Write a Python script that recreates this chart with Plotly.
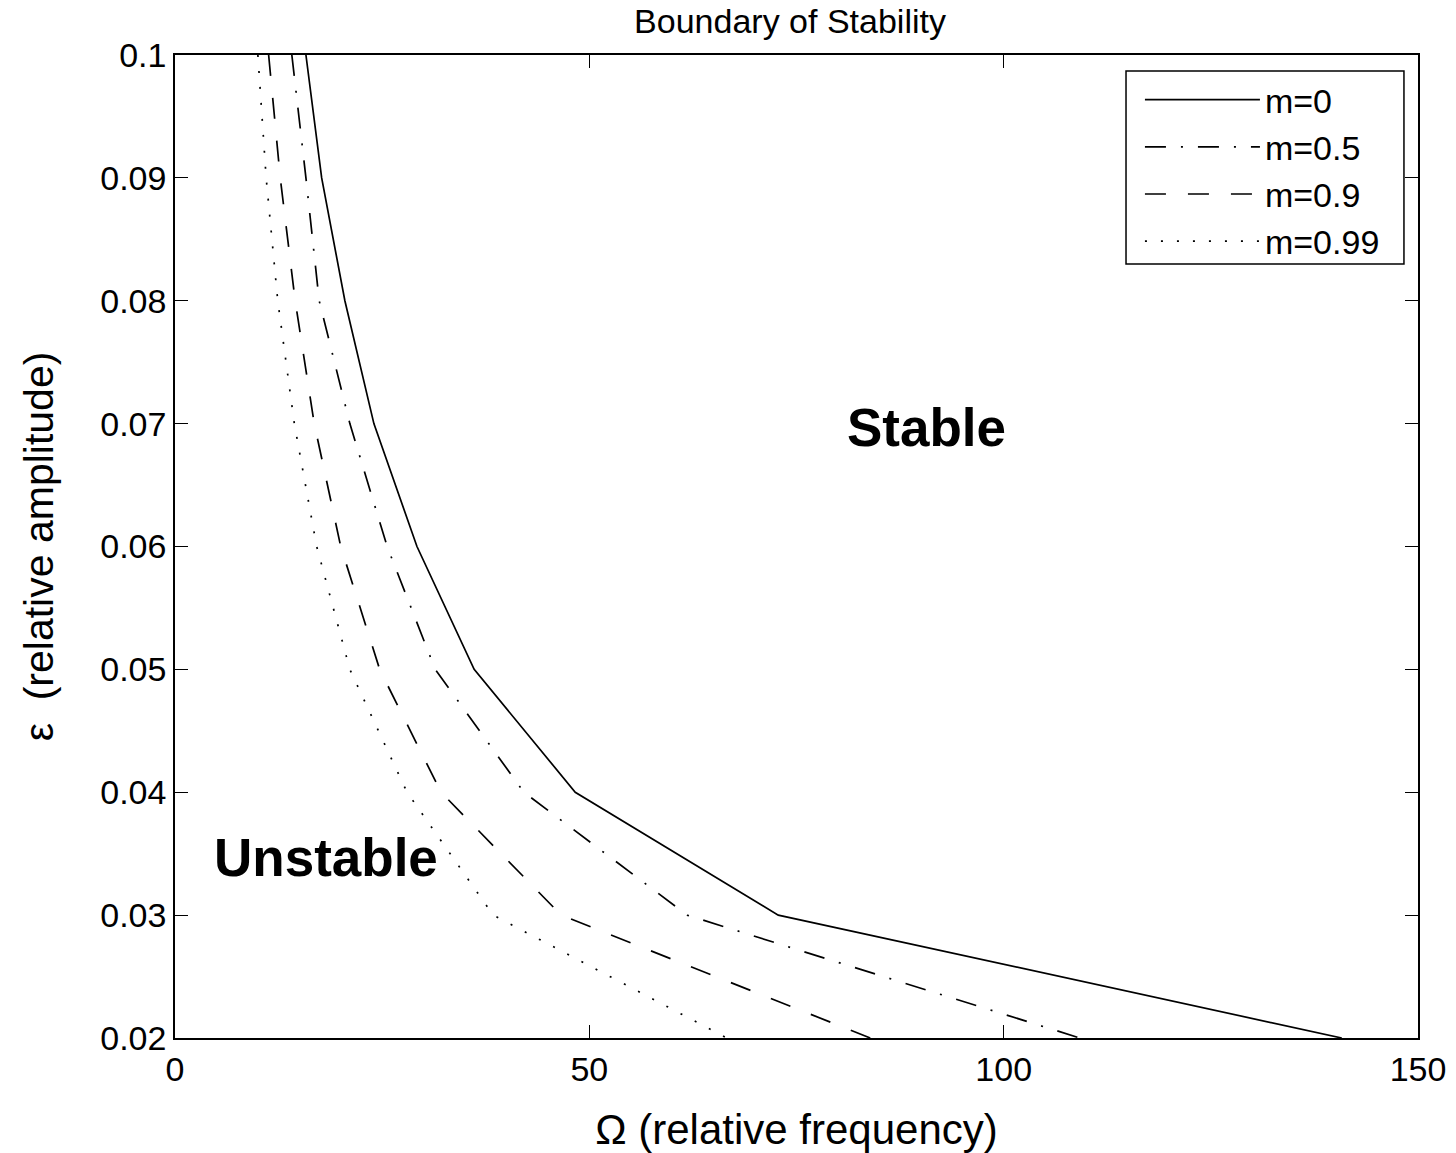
import plotly.graph_objects as go

eps = [0.1, 0.09, 0.08, 0.07, 0.06, 0.05, 0.04, 0.03, 0.02]
omega_m0 = [15.8, 17.7, 20.5, 24.0, 29.2, 36.1, 48.3, 72.8, 140.8]
omega_m05 = [14.1, 15.8, 17.4, 21.1, 25.6, 31.4, 42.1, 61.8, 109.2]
omega_m09 = [11.3, 12.7, 14.5, 16.8, 20.0, 24.7, 32.1, 46.6, 83.9]
omega_m099 = [10.0, 11.0, 12.4, 14.4, 17.1, 21.1, 28.0, 38.4, 66.6]

series_names = ["m=0", "m=0.5", "m=0.9", "m=0.99"]
series_x = [omega_m0, omega_m05, omega_m09, omega_m099]
dashes = ["solid", "21px,15px,2px,15px", "21px,22px", "2px,14px"]

xticks = [0, 50, 100, 150]
yticks = [0.02, 0.03, 0.04, 0.05, 0.06, 0.07, 0.08, 0.09, 0.1]
yticktext = ["0.02", "0.03", "0.04", "0.05", "0.06", "0.07", "0.08", "0.09", "0.1"]

FONT = "Liberation Sans, Arial, Helvetica, sans-serif"

fig = go.Figure()
for name, xs, d in zip(series_names, series_x, dashes):
    fig.add_trace(go.Scatter(
        x=xs, y=eps, mode="lines", name=name,
        line=dict(color="black", width=1.7, dash=d),
    ))

fig.add_annotation(x=90.7, y=0.0697, text="<b>Stable</b>", showarrow=False,
                   font=dict(size=53, color="black", family=FONT))
fig.add_annotation(x=18.2, y=0.0347, text="<b>Unstable</b>", showarrow=False,
                   font=dict(size=53, color="black", family=FONT))

# legend frame (decoration) drawn as a paper-space rectangle
fig.add_shape(type="rect", xref="paper", yref="paper",
              x0=0.7651, x1=0.9887, y0=0.7874, y1=0.9837,
              line=dict(color="black", width=1.5), fillcolor="white",
              layer="below")

axis_common = dict(
    showline=True, linecolor="black", linewidth=1.5, mirror="ticks",
    ticks="inside", ticklen=13, tickwidth=1.2, tickcolor="black",
    showgrid=False, zeroline=False, automargin=False,
    tickfont=dict(size=34, color="black", family=FONT),
)

fig.update_layout(
    width=1456, height=1153,
    margin=dict(l=175, r=38, t=55, b=115, autoexpand=False),
    paper_bgcolor="white", plot_bgcolor="rgba(0,0,0,0)",
    font=dict(family=FONT, color="black"),
    title=dict(text="Boundary of Stability", x=0.5426, xanchor="center",
               y=1 - 21 / 1153, yanchor="middle", yref="container",
               pad=dict(t=0, b=0, l=0, r=0), automargin=False,
               font=dict(size=34, color="black", family=FONT)),
    xaxis=dict(range=[0, 150], tickvals=xticks,
               title=dict(text="Ω (relative frequency)", standoff=28,
                          font=dict(size=42, color="black", family=FONT)),
               **axis_common),
    yaxis=dict(range=[0.02, 0.1], tickvals=yticks, ticktext=yticktext,
               title=dict(text="ε\u00a0 (relative amplitude)", standoff=34,
                          font=dict(size=41, color="black", family=FONT)),
               **axis_common),
    legend=dict(x=0.7763, xanchor="left", y=0.9837, yanchor="top",
                bgcolor="rgba(0,0,0,0)", borderwidth=0,
                font=dict(size=34, color="black", family=FONT),
                itemwidth=115, tracegroupgap=0),
    showlegend=True,
)

# remove the default page margin so the figure fills the window exactly
fig.write_html("out.html",
               config={"displayModeBar": False},
               post_script="document.body.style.margin='0';document.body.style.padding='0';")
